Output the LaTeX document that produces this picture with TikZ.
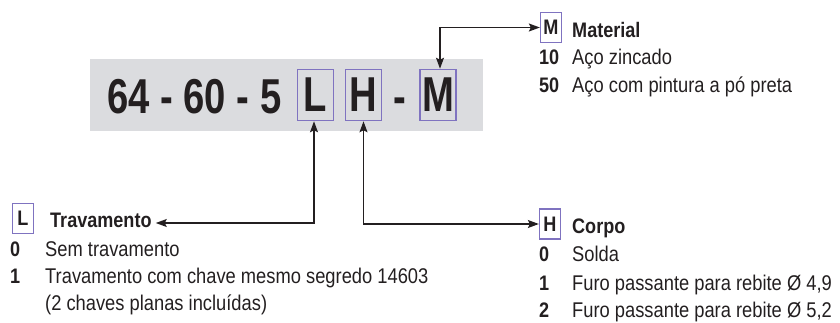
\documentclass[tikz,border=0pt]{standalone}
\usepackage{fontspec}
\setmainfont{Liberation Sans}[FakeStretch=0.86]
\newfontfamily\bigfont{Liberation Sans}[FakeStretch=0.78]
\usetikzlibrary{arrows.meta}
\definecolor{graybg}{HTML}{DBDCDF}
\definecolor{boxpurple}{HTML}{7F73C0}
\definecolor{ink}{HTML}{231F20}
\tikzset{
  bigtxt/.style={font=\bigfont\bfseries\fontsize{49}{52}\selectfont, text=ink, inner sep=0pt},
  bigbox/.style={draw=boxpurple, line width=1.6pt, minimum width=36pt, minimum height=51pt, inner sep=0pt, font=\bigfont\bfseries\fontsize{49}{52}\selectfont, text=ink},
  smallbox/.style={draw=boxpurple, line width=1.3pt, minimum width=21pt, minimum height=30pt, inner sep=0pt, font=\bfseries\fontsize{21}{24}\selectfont, text=ink},
  title/.style={anchor=base west, inner sep=0pt, font=\bfseries\fontsize{21}{24}\selectfont, text=ink},
  num/.style={anchor=base west, inner sep=0pt, font=\bfseries\fontsize{21}{24}\selectfont, text=ink},
  item/.style={anchor=base west, inner sep=0pt, font=\fontsize{21.3}{24}\selectfont, text=ink},
  conn/.style={draw=ink, line width=1.3pt, {Stealth[length=11pt,width=8pt,inset=2pt]}-{Stealth[length=11pt,width=8pt,inset=2pt]}}
}
\begin{document}
\begin{tikzpicture}[x=1pt,y=-1pt]
\useasboundingbox (0,0) rectangle (840,322);
\fill[graybg] (90,59) rectangle (483,131);
\node[bigtxt, anchor=base west] (code) at (107,113) {64 - 60 - 5};
\node[bigbox] (Lbig) at (315.5,95) {L};
\node[bigbox] (Hbig) at (363.5,95) {H};
\node[bigtxt, anchor=base] (dash) at (400,113) {-};
\node[bigbox] (Mbig) at (438,95) {M};

% Material
\node[smallbox] (Msmall) at (551,27.5) {M};
\node[title] (Mt) at (572,37) {Material};
\node[num] (m1n) at (539,64) {10};
\node[item] (m1) at (572,64) {Aço zincado};
\node[num] (m2n) at (539,92) {50};
\node[item] (m2) at (572,92) {Aço com pintura a pó preta};

% Travamento
\node[smallbox] (Lsmall) at (23,218.5) {L};
\node[title] (Lt) at (50,227) {Travamento};
\node[num] (l0n) at (10,256) {0};
\node[item] (l0) at (45,256) {Sem travamento};
\node[num] (l1n) at (10,283) {1};
\node[item] (l1) at (45,283) {Travamento com chave mesmo segredo 14603};
\node[item] (l1b) at (45,310) {(2 chaves planas incluídas)};

% Corpo
\node[smallbox] (Hsmall) at (550,224) {H};
\node[title] (Ht) at (572,233) {Corpo};
\node[num] (h0n) at (539,261) {0};
\node[item] (h0) at (572,261) {Solda};
\node[num] (h1n) at (539,290) {1};
\node[item] (h1) at (572,290) {Furo passante para rebite Ø 4,9};
\node[num] (h2n) at (539,317) {2};
\node[item] (h2) at (572,317) {Furo passante para rebite Ø 5,2};

% connectors
\draw[conn] ([xshift=2pt]Mbig.north) |- (Msmall.west);
\draw[conn] ([xshift=-1.5pt]Lbig.south) |- ([xshift=4pt,yshift=4pt]Lt.base east);
\draw[conn] (Hbig.south) |- (Hsmall.west);
\end{tikzpicture}
\end{document}
